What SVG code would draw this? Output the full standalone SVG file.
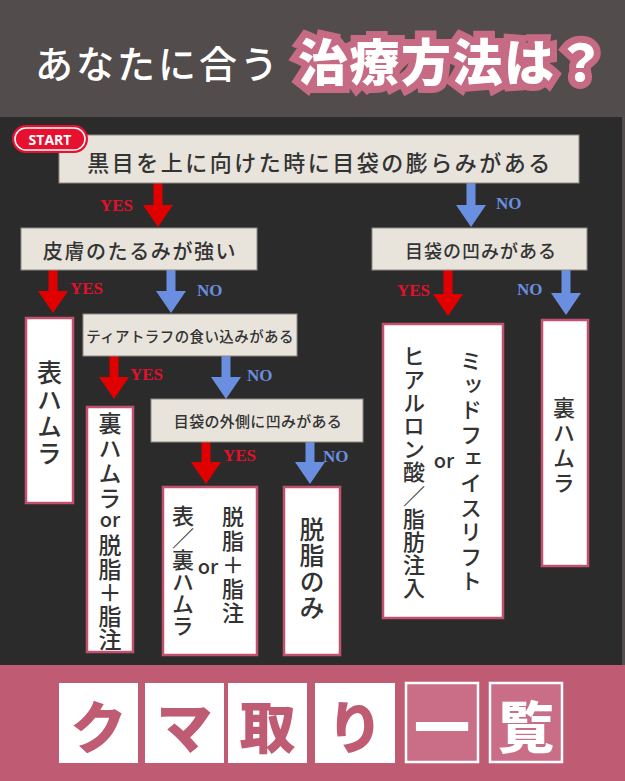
<svg xmlns="http://www.w3.org/2000/svg" width="625" height="781" viewBox="0 0 625 781">
<defs>
<style>
.jp{font-family:"Noto Sans CJK JP","Noto Sans",sans-serif;}
.q{fill:#e8e4dc;stroke:#8f8a84;stroke-width:1;}
.qt{font-family:"Noto Sans CJK JP",sans-serif;font-weight:500;fill:#333;dominant-baseline:central;text-anchor:middle;}
.r{fill:#ffffff;stroke:#c2506f;stroke-width:2.5;}
.v{font-family:"Noto Sans CJK JP",sans-serif;font-weight:500;fill:#333;writing-mode:vertical-rl;}
.or{font-family:"Noto Sans CJK JP",sans-serif;font-weight:500;fill:#333;dominant-baseline:central;text-anchor:middle;font-size:20px;}
.yes{fill:#e00000;}
.no{fill:#6a8fe0;}
.yl{font-family:"Liberation Serif",serif;font-weight:bold;font-size:17px;fill:#e3102c;}
.nl{font-family:"Liberation Serif",serif;font-weight:bold;font-size:17px;fill:#6a8fe0;}
.bw{fill:#ffffff;}
.bp{fill:#c96e86;stroke:#ffffff;stroke-width:2.5;}
.bt{font-family:"Noto Sans CJK JP",sans-serif;font-weight:900;font-size:56px;dominant-baseline:central;text-anchor:middle;}
</style>
</defs>
<rect x="0" y="0" width="625" height="781" fill="#524c4c"/>
<rect x="0" y="117" width="622" height="548" fill="#2c2b2b"/>
<rect x="0" y="665" width="625" height="116" fill="#c05b74"/>

<g id="title">
<text x="35" y="61" class="jp" font-size="38" font-weight="500" fill="#ffffff" letter-spacing="3" dominant-baseline="central">あなたに合う</text>
<text x="298" y="59" class="jp" font-size="50" font-weight="900" fill="#ffffff" letter-spacing="1.5" dominant-baseline="central" stroke="#c76b85" stroke-width="14" stroke-linejoin="miter" paint-order="stroke">治療方法は？</text>
</g>

<g id="connectors">
<path class="yes" d="M153.5,183 H162.5 V205 H173 L158,227 L143,205 H153.5 Z"/>
<path class="no" d="M466.5,183 H475.5 V205 H486 L471,227 L456,205 H466.5 Z"/>
<path class="yes" d="M48.5,270 H57.5 V291 H68 L53,313 L38,291 H48.5 Z"/>
<path class="no" d="M166.5,270 H175.5 V291 H186 L171,313 L156,291 H166.5 Z"/>
<path class="yes" d="M443.5,270 H452.5 V294 H463 L448,316 L433,294 H443.5 Z"/>
<path class="no" d="M561.5,270 H570.5 V293 H581 L566,315 L551,293 H561.5 Z"/>
<path class="yes" d="M109.5,356 H118.5 V377 H129 L114,399 L99,377 H109.5 Z"/>
<path class="no" d="M221.5,356 H230.5 V377 H241 L226,399 L211,377 H221.5 Z"/>
<path class="yes" d="M201.5,442 H210.5 V462 H221 L206,484 L191,462 H201.5 Z"/>
<path class="no" d="M305.5,442 H314.5 V462 H325 L310,484 L295,462 H305.5 Z"/>
<text class="yl" x="100" y="211">YES</text>
<text class="nl" x="496" y="209">NO</text>
<text class="yl" x="70" y="294">YES</text>
<text class="nl" x="197" y="296">NO</text>
<text class="yl" x="397" y="296">YES</text>
<text class="nl" x="517" y="295">NO</text>
<text class="yl" x="130" y="380">YES</text>
<text class="nl" x="247" y="381">NO</text>
<text class="yl" x="223" y="461">YES</text>
<text class="nl" x="323" y="462">NO</text>
</g>

<g id="q1">
<rect class="q" x="59" y="135" width="520" height="48"/>
<text class="qt" x="320" y="161" font-size="22" letter-spacing="2.5">黒目を上に向けた時に目袋の膨らみがある</text>
</g>
<g id="start">
<rect x="12" y="125" width="76" height="28" rx="14" fill="#e5112f"/>
<rect x="15" y="128" width="70" height="22" rx="11" fill="none" stroke="#ffffff" stroke-width="1.5"/>
<text x="50" y="139.5" font-family="Open Sans, sans-serif" font-weight="bold" font-size="14" fill="#ffffff" text-anchor="middle" dominant-baseline="central">START</text>
</g>
<g id="q2">
<rect class="q" x="21" y="228" width="236" height="42"/>
<text class="qt" x="140" y="250" font-size="20" letter-spacing="1.6">皮膚のたるみが強い</text>
</g>
<g id="q3">
<rect class="q" x="372" y="228" width="215" height="42"/>
<text class="qt" x="481" y="250" font-size="18" letter-spacing="1">目袋の凹みがある</text>
</g>
<g id="q4">
<rect class="q" x="83" y="314" width="214" height="42"/>
<text class="qt" x="190" y="335" font-size="14.5" letter-spacing="0.4">ティアトラフの食い込みがある</text>
</g>
<g id="q5">
<rect class="q" x="151" y="399" width="212" height="43"/>
<text class="qt" x="258" y="420" font-size="15" letter-spacing="0.3">目袋の外側に凹みがある</text>
</g>

<g id="r1">
<rect class="r" x="26" y="318" width="47" height="185"/>
<text class="v" x="49.5" y="360" font-size="25" letter-spacing="2">表ハムラ</text>
</g>
<g id="r2">
<rect class="r" x="87" y="407" width="46" height="245"/>
<text class="v" x="110" y="412" font-size="23" letter-spacing="2">裏ハムラ</text>
<text class="or" x="110" y="518">or</text>
<text class="v" x="110" y="534" font-size="23" letter-spacing="0.5">脱脂＋脂注</text>
</g>
<g id="r3">
<rect class="r" x="163" y="487" width="94" height="168"/>
<text class="v" x="183" y="505" font-size="22" letter-spacing="0">表／裏ハムラ</text>
<text class="or" x="208" y="565">or</text>
<text class="v" x="233" y="506" font-size="22" letter-spacing="2">脱脂＋脂注</text>
</g>
<g id="r4">
<rect class="r" x="284" y="487" width="56" height="168"/>
<text class="v" x="312" y="517" font-size="25" letter-spacing="1">脱脂のみ</text>
</g>
<g id="r5">
<rect class="r" x="383" y="324" width="120" height="294"/>
<text class="v" x="471" y="350" font-size="22" letter-spacing="2.4">ミッドフェイスリフト</text>
<text class="or" x="444" y="459">or</text>
<text class="v" x="414" y="345" font-size="22" letter-spacing="1.2">ヒアルロン酸／脂肪注入</text>
</g>
<g id="r6">
<rect class="r" x="542" y="320" width="46" height="246"/>
<text class="v" x="564" y="397" font-size="22" letter-spacing="3">裏ハムラ</text>
</g>

<g id="banner">
<rect class="bw" x="59" y="683" width="79" height="80"/>
<rect class="bw" x="145" y="683" width="79" height="80"/>
<rect class="bw" x="228" y="683" width="79" height="80"/>
<rect class="bw" x="315" y="683" width="80" height="80"/>
<rect class="bp" x="406" y="683" width="72" height="79"/>
<rect class="bp" x="490" y="683" width="72" height="79"/>
<text class="bt" x="98.5" y="723" fill="#c05b74">ク</text>
<text class="bt" x="184.5" y="723" fill="#c05b74">マ</text>
<text class="bt" x="267.5" y="723" fill="#c05b74">取</text>
<text class="bt" x="355" y="723" fill="#c05b74">り</text>
<text class="bt" x="442" y="723" fill="#ffffff">一</text>
<text class="bt" x="526" y="723" fill="#ffffff">覧</text>
</g>
</svg>
